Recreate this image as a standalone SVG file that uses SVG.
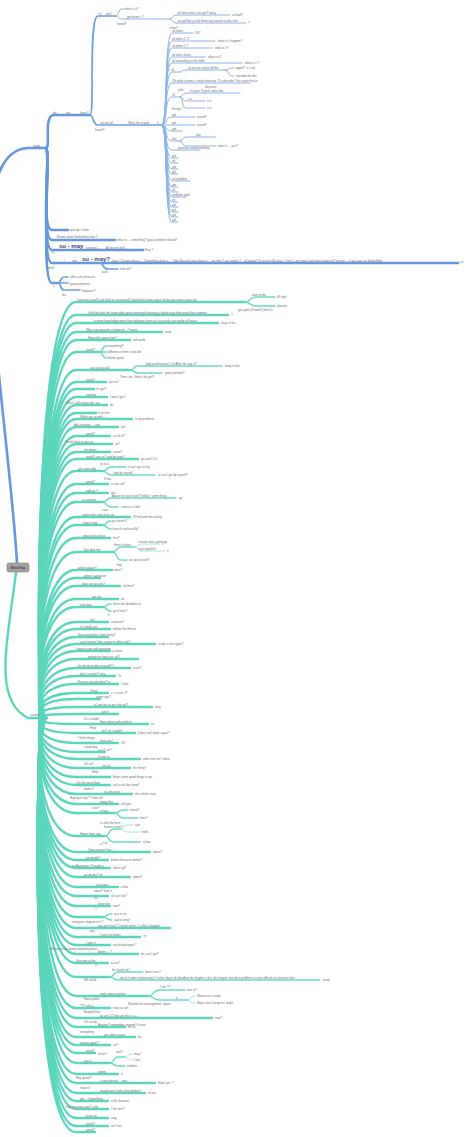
<svg xmlns="http://www.w3.org/2000/svg" width="474" height="1137" viewBox="0 0 474 1137" xml:space="preserve">
<style>
.b1{stroke:#6797dd;stroke-width:2.6;fill:none;stroke-linecap:round}
.b2{stroke:#6f9fe2;stroke-width:1.7;fill:none;stroke-linecap:round}
.b3{stroke:#8db4ea;stroke-width:1;fill:none;stroke-linecap:round}
.t1{stroke:#5cd6bc;stroke-width:2.4;fill:none;stroke-linecap:round}
.t2{stroke:#6cdbc4;stroke-width:1.4;fill:none;stroke-linecap:round}
.t3{stroke:#88e2d0;stroke-width:0.8;fill:none;stroke-linecap:round}
text{font-family:"Liberation Sans",Arial,sans-serif;font-size:3px;fill:#6e6e6e}
.big{font-size:6px;font-weight:bold;fill:#3e4a5c}
.root{font-size:3.4px;fill:#222}
</style>
<rect width="474" height="1137" fill="#ffffff"/>
<g id="connectors">
<g class="b1">
<path d="M17,563C12,470 -18,270 -9,205C-4,172 6,149 28,148H46"/>
<path d="M46,148C51,148 43,115 54,115H90"/>
<path d="M46,148C51,148 40,230 52,230H68"/>
<path d="M46,148C51,148 40,240 52,240H115"/>
<path d="M46,148C51,148 40,250 52,250H143"/>
<path d="M46,148C51,148 40,263 52,263H458"/>
<path d="M46,148C51,148 40,283 52,283H58"/>
</g>
<g class="b2">
<path d="M90,115C95,115 88,16 98,16H116"/>
<path d="M90,115C94,115 92,125 98,125H162"/>
<path d="M100,263C104,263 102,269 108,269H118"/>
<path d="M58,283C61,283 60,277 64,277H68"/>
<path d="M58,283H68"/>
<path d="M58,283C61,283 60,290 64,290H80"/>
</g>
<g class="b3">
<path d="M116,16C119,16 118,9 122,9H124"/>
<path d="M116,16C119,16 118,19 122,19H170"/>
<path d="M170,19C173,19 172,15 176,15H230"/>
<path d="M170,19C173,19 172,23 176,23H246"/>
<path d="M162,125C168,125 164,33 172,33H193"/>
<path d="M162,125C168,125 164,41 172,41H215"/>
<path d="M162,125C168,125 164,48 172,48H212"/>
<path d="M162,125C168,125 164,57 172,57H205"/>
<path d="M162,125C168,125 164,63 172,63H242"/>
<path d="M162,125C168,125 164,72 172,72H180"/>
<path d="M162,125C168,125 164,83 172,83H250"/>
<path d="M162,125C168,125 164,97 172,97H180"/>
<path d="M162,125C168,125 164,117 172,117H195"/>
<path d="M162,125C168,125 164,125 172,125H195"/>
<path d="M162,125C168,125 164,131 172,131H182"/>
<path d="M162,125C168,125 164,141 172,141H180"/>
<path d="M162,125C168,125 164,150 172,150H200"/>
<path d="M162,125C168,125 164,158 172,158H178"/>
<path d="M162,125C168,125 164,163 172,163H178"/>
<path d="M162,125C168,125 164,169 172,169H178"/>
<path d="M162,125C168,125 164,174 172,174H178"/>
<path d="M162,125C168,125 164,181 172,181H190"/>
<path d="M162,125C168,125 164,187 172,187H178"/>
<path d="M162,125C168,125 164,192 172,192H178"/>
<path d="M162,125C168,125 164,197 172,197H186"/>
<path d="M162,125C168,125 164,202 172,202H178"/>
<path d="M162,125C168,125 164,207 172,207H178"/>
<path d="M162,125C168,125 164,212 172,212H178"/>
<path d="M162,125C168,125 164,217 172,217H178"/>
<path d="M162,125C168,125 164,222 172,222H178"/>
<path d="M180,72C183,72 182,70 186,70H225"/>
<path d="M225,70C229,70 228,68 232,68H234"/>
<path d="M225,70C229,70 228,76 232,76H234"/>
<path d="M180,97C183,97 182,93 186,93H240"/>
<path d="M180,97C183,97 182,101 186,101H205"/>
<path d="M180,97C183,97 182,108 186,108H205"/>
<path d="M180,141C183,141 182,137 186,137H216"/>
<path d="M180,141C183,141 182,146 186,146H216"/>
</g>
<g class="t1">
<path d="M16,572C8,640 -8,700 28,718H46"/>
<path d="M46,718C34,718 34,302 76,302H245"/>
<path d="M46,718C34,718 34,315 76,315H228"/>
<path d="M46,718C34,718 34,323 76,323H218"/>
<path d="M46,718C34,718 34,332 76,332H162"/>
<path d="M46,718C34,718 34,340 76,340H130"/>
<path d="M46,718C34,718 34,352 76,352H100"/>
<path d="M46,718C34,718 34,370 76,370H130"/>
<path d="M46,718C34,718 34,382 76,382H106"/>
<path d="M46,718C34,718 34,389 76,389H94"/>
<path d="M46,718C34,718 34,397 76,397H107"/>
<path d="M46,718C34,718 34,405 76,405H107"/>
<path d="M46,718C34,718 34,413 76,413H96"/>
<path d="M46,718C34,718 34,419 76,419H132"/>
<path d="M46,718C34,718 34,427 76,427H118"/>
<path d="M46,718C34,718 34,436 76,436H110"/>
<path d="M46,718C34,718 34,444 76,444H112"/>
<path d="M46,718C34,718 34,452 76,452H110"/>
<path d="M46,718C34,718 34,459 76,459H138"/>
<path d="M46,718C34,718 34,471 76,471H103"/>
<path d="M46,718C34,718 34,484 76,484H108"/>
<path d="M46,718C34,718 34,493 76,493H108"/>
<path d="M46,718C34,718 34,502 76,502H103"/>
<path d="M46,718C34,718 34,517 76,517H130"/>
<path d="M46,718C34,718 34,525 76,525H103"/>
<path d="M46,718C34,718 34,538 76,538H110"/>
<path d="M46,718C34,718 34,552 76,552H113"/>
<path d="M46,718C34,718 34,570 76,570H112"/>
<path d="M46,718C34,718 34,578 76,578H100"/>
<path d="M46,718C34,718 34,586 76,586H120"/>
<path d="M46,718C34,718 34,599 76,599H118"/>
<path d="M46,718C34,718 34,607 76,607H103"/>
<path d="M46,718C34,718 34,622 76,622H108"/>
<path d="M46,718C34,718 34,629 76,629H110"/>
<path d="M46,718C34,718 34,637 76,637H108"/>
<path d="M46,718C34,718 34,644 76,644H155"/>
<path d="M46,718C34,718 34,651 76,651H110"/>
<path d="M46,718C34,718 34,659 76,659H138"/>
<path d="M46,718C34,718 34,668 76,668H130"/>
<path d="M46,718C34,718 34,676 76,676H115"/>
<path d="M46,718C34,718 34,684 76,684H118"/>
<path d="M46,718C34,718 34,693 76,693H108"/>
<path d="M46,718C34,718 34,699 76,699H100"/>
<path d="M46,718C34,718 34,707 76,707H152"/>
<path d="M46,718C34,718 34,714 76,714H118"/>
<path d="M46,718C34,718 34,724 76,724H148"/>
<path d="M46,718C34,718 34,733 76,733H135"/>
<path d="M46,718C34,718 34,743 76,743H118"/>
<path d="M46,718C34,718 34,752 76,752H105"/>
<path d="M46,718C34,718 34,759 76,759H140"/>
<path d="M46,718C34,718 34,768 76,768H130"/>
<path d="M46,718C34,718 34,777 76,777H110"/>
<path d="M46,718C34,718 34,785 76,785H110"/>
<path d="M46,718C34,718 34,794 76,794H132"/>
<path d="M46,718C34,718 34,804 76,804H118"/>
<path d="M46,718C34,718 34,813 76,813H115"/>
<path d="M46,718C34,718 34,836 76,836H105"/>
<path d="M46,718C34,718 34,852 76,852H150"/>
<path d="M46,718C34,718 34,860 76,860H108"/>
<path d="M46,718C34,718 34,868 76,868H110"/>
<path d="M46,718C34,718 34,877 76,877H130"/>
<path d="M46,718C34,718 34,887 76,887H118"/>
<path d="M46,718C34,718 32,896 76,896H108"/>
<path d="M46,718C34,718 32,906 76,906H110"/>
<path d="M46,718C34,718 32,917 76,917H103"/>
<path d="M46,718C34,718 32,928 76,928H170"/>
<path d="M46,718C34,718 32,937 76,937H140"/>
<path d="M46,718C34,718 32,945 76,945H110"/>
<path d="M46,718C34,718 32,954 76,954H138"/>
<path d="M46,718C34,718 32,963 76,963H108"/>
<path d="M46,718C34,718 32,977 76,977H110"/>
<path d="M46,718C34,718 32,996 76,996H148"/>
<path d="M46,718C34,718 30,1008 76,1008H110"/>
<path d="M46,718C34,718 30,1018 76,1018H212"/>
<path d="M46,718C34,718 30,1027 76,1027H125"/>
<path d="M46,718C34,718 30,1037 76,1037H135"/>
<path d="M46,718C34,718 30,1045 76,1045H110"/>
<path d="M46,718C34,718 30,1053 76,1053H95"/>
<path d="M46,718C34,718 30,1063 76,1063H110"/>
<path d="M46,718C34,718 28,1074 76,1074H118"/>
<path d="M46,718C34,718 28,1083 76,1083H155"/>
<path d="M46,718C34,718 28,1093 76,1093H145"/>
<path d="M46,718C34,718 28,1101 76,1101H108"/>
<path d="M46,718C34,718 28,1109 76,1109H108"/>
<path d="M46,718C34,718 28,1118 76,1118H108"/>
<path d="M46,718C34,718 28,1126 76,1126H108"/>
<path d="M46,718C34,718 28,1132 76,1132H95"/>
</g>
<g class="t2">
<path d="M245,302C250,302 250,297 256,297H275"/>
<path d="M245,302C250,302 250,306 256,306H275"/>
<path d="M100,352C103,352 102,346 106,346H107"/>
<path d="M100,352H107"/>
<path d="M100,352C103,352 102,358 106,358H107"/>
<path d="M130,370C134,370 133,366 138,366H222"/>
<path d="M130,370C134,370 133,373 138,373H162"/>
<path d="M103,471C107,471 106,467 111,467H126"/>
<path d="M103,471C107,471 106,475 111,475H155"/>
<path d="M103,502C107,502 106,498 111,498H176"/>
<path d="M103,502C107,502 106,507 111,507H118"/>
<path d="M103,525C107,525 106,521 110,521H111"/>
<path d="M103,525C107,525 106,529 110,529H111"/>
<path d="M113,552C117,552 116,547 121,547H135"/>
<path d="M113,552C117,552 116,560 121,560H127"/>
<path d="M103,607C107,607 106,604 110,604H111"/>
<path d="M103,607C107,607 106,611 110,611H111"/>
<path d="M115,813C119,813 118,810 123,810H128"/>
<path d="M115,813C119,813 118,818 123,818H138"/>
<path d="M105,836C110,836 108,829 114,829H120"/>
<path d="M105,836C110,836 108,842 114,842H140"/>
<path d="M103,917C107,917 106,914 111,914H112"/>
<path d="M103,917C107,917 106,920 111,920H112"/>
<path d="M110,977C114,977 113,972 118,972H143"/>
<path d="M110,977C114,977 113,980 118,980H320"/>
<path d="M148,996C155,996 152,990 160,990H185"/>
<path d="M148,996C155,996 152,1000 160,1000H188"/>
<path d="M110,1063C114,1063 113,1057 118,1057H125"/>
<path d="M110,1063C114,1063 113,1066 118,1066H125"/>
</g>
<g class="t3">
<path d="M135,547C138,547 137,544 142,544H160"/>
<path d="M135,547C138,547 137,551 142,551H165"/>
<path d="M120,829C124,829 123,825 128,825H133"/>
<path d="M120,829C124,829 123,832 128,832H140"/>
<path d="M188,1000C191,1000 190,996 194,996H195"/>
<path d="M188,1000C191,1000 190,1003 194,1003H195"/>
<path d="M125,1057C128,1057 127,1054 131,1054H132"/>
<path d="M125,1057C128,1057 127,1060 131,1060H132"/>
</g>
</g>
<g id="root"><rect x="7" y="563" width="22" height="9" rx="2" fill="#a3a3a3" stroke="#7d7d7d" stroke-width="0.6"/><text class="root" x="18" y="568.8" text-anchor="middle">Mind Map</text></g>
<g id="study"><text x="33" y="146.5">study</text></g>
<g id="do"><text x="53" y="113.5">do</text><text x="66" y="113.5">are</text><text x="80" y="113.5">learn?</text></g>
<g id="is"><text x="99" y="14.5">is</text><text x="106" y="14.5">am I</text></g>
<g id="what-is-it"><text x="125" y="9.8">what is it?</text></g>
<g id="get"><text x="127" y="17.6">get    know    it    ?</text><text x="117" y="25">heard?</text>
<text x="177" y="13.6">all    them    clear    a lot get?    fancy</text><text x="232" y="16">so bad?</text>
<text x="178" y="21.6">as well    be y a lot    them say    search to do it the</text><text x="248" y="24">?</text></g>
<g id="just-do"><text x="100" y="123.6">just do all</text><text x="128" y="123.6">What the stupid</text><text x="157" y="123.6">it</text><text x="95" y="131">heard?</text></g>
<g id="jd-list">
<text x="170" y="28.5">what?</text><text x="172" y="31.7">ok    when</text><text x="195" y="34">Ok?</text>
<text x="172" y="39.7">ok    when    1    'C'</text><text x="218" y="42">what is it happen?</text>
<text x="172" y="46.7">ok    when    1    ?</text><text x="215" y="49">what is it?</text>
<text x="172" y="55.7">ok    when    more</text><text x="208" y="58">what is it?</text>
<text x="172" y="61.7">all    something in the field</text><text x="245" y="64">what is it ?</text>
<text x="171" y="70.7">all</text><text x="188" y="68.7">so no not useful will be</text><text x="236" y="69">again? 'is' a di</text><text x="236" y="77">episode the del</text>
<text x="172" y="81.7">Oh    what    (comes) create directory 'I'll subscribe'   You count this in</text><text x="205" y="87.5">direction</text>
<text x="172" y="95.7">11</text><text x="178" y="90.5">with</text><text x="190" y="91.7">it a pair    I'll pick subscribe</text><text x="188" y="99.7">a a</text><text x="207" y="102">is it</text><text x="172" y="109.5">Fanny ?</text><text x="207" y="109">is it</text>
<text x="172" y="115.7">got</text><text x="197" y="118">round?</text>
<text x="172" y="123.7">got</text><text x="197" y="126">round?</text>
<text x="172" y="129.7">got</text>
<text x="172" y="139.7">bro</text><text x="196" y="135.7">day</text><text x="218" y="147">what is ... yes?</text>
<text x="178" y="148.7">question understanding</text>
<text x="172" y="156.7">got</text><text x="172" y="161.7">ok</text><text x="172" y="167.7">got</text><text x="172" y="172.7">got</text><text x="172" y="179.7">no problem</text><text x="172" y="185.7">got</text><text x="172" y="190.7">ok</text><text x="172" y="195.7">problem  gold</text><text x="172" y="200.7">ok</text><text x="172" y="205.7">got</text><text x="172" y="210.7">got</text><text x="172" y="215.7">got</text><text x="172" y="220.7">got</text>
</g>
<g id="quickly"><text x="70" y="231">quickly: it take</text></g>
<g id="exams"><text x="57" y="238.3">Exams    draw    Something    time 1</text><text x="117" y="241">what to ... something? (you) problem should?</text></g>
<g id="su-may"><text class="big" x="59" y="248.3">su - may</text><text x="86" y="248.7">it recent ...</text><text x="106" y="248.7">A (recent) feel ...</text><text x="145" y="251">Eng ?</text><text x="51" y="253.5">??</text></g>
<g id="su-may-q"><text class="big" x="82" y="261">su - may?</text><text x="64" y="261.7">l</text><text x="72" y="261.7">one</text>
<text x="112" y="261.7">have 1    Scope    draw a ...    Something    draw a ...    Take    Based (case)    draw a ...    we    time 1    we    need it    7 - all happy?    th recent 400 days    ?    time 1    we    need it    we    hear happy ok?    we    ms ...    it ay a use so Something</text><text x="460" y="264">??</text>
<text x="47" y="268.5">small</text><text x="102" y="272.5">task</text><text x="120" y="270">next ok?</text></g>
<g id="after"><text x="70" y="278">after cute pertussis</text><text x="70" y="284.7">going anymore</text><text x="82" y="291.5">beginner?</text><text x="53" y="287.5">?</text><text x="62" y="296">fav</text></g>
<g id="custom"><text x="30" y="716">custom</text></g>
<g id="t01"><text x="77" y="300.7">I present it well?   ask   both   as recovered?   wonderful   home stay   it ok   be   you   some   return   ok</text><text x="252" y="295.5">want to be</text><text x="277" y="298">fill high</text><text x="277" y="307">glasses</text><text x="238" y="310.5">gas path (Growth) (direct)</text></g>
<g id="t02"><text x="88" y="313.7">it left   be help   the some date   grow   interested learning   a whole way   then   great   fine summer</text><text x="231" y="316">?</text></g>
<g id="t03"><text x="94" y="321.7">a   more knowledge   more than pathway   even in it so easily   can   inside of house</text><text x="221" y="324">easy in the</text></g>
<g id="t04"><text x="86" y="330.7">Why stay   away   for it home to ...?   more</text><text x="165" y="333">yeah</text></g>
<g id="t05"><text x="88" y="338.7">How old   it gone   how?</text><text x="133" y="341">old world</text></g>
<g id="t06"><text x="86" y="350.7">world?</text><text x="108" y="347">something?</text><text x="108" y="353">difference from it and old</text><text x="108" y="359">Some good</text></g>
<g id="t07"><text x="90" y="368.7">can   no   last will</text><text x="146" y="364.7">play     professional     1 all     After do stay     a?</text><text x="225" y="367">keep to the</text><text x="165" y="374">gone perform?</text><text x="120" y="378">Time can / How it be get?</text></g>
<g id="t08"><text x="86" y="380.7">world?</text><text x="109" y="383">yet no?</text></g>
<g id="t09"><text x="96" y="390">it's got?</text></g>
<g id="t10"><text x="86" y="395.7">nothing</text><text x="110" y="398">I won't go it</text></g>
<g id="t11"><text x="66" y="403.7">What I will it must do / so</text><text x="110" y="406">do</text></g>
<g id="t12"><text x="98" y="414">It set this</text></g>
<g id="t13"><text x="80" y="417.7">Web   it go so with ...</text><text x="135" y="420">is my problem</text></g>
<g id="t14"><text x="74" y="425.7">Ask so more   ...   can</text><text x="121" y="428">yet</text></g>
<g id="t15"><text x="86" y="434.7">world?</text><text x="113" y="437">so all of?</text></g>
<g id="t16"><text x="66" y="442.7">Build what to use as</text><text x="115" y="445">so?</text></g>
<g id="t17"><text x="84" y="450.7">I'm better</text><text x="113" y="453">same?</text></g>
<g id="t18"><text x="86" y="457.7">world?   can so?   and be now?</text><text x="141" y="460">go and it 2.0</text></g>
<g id="t19"><text x="78" y="469.7">get some tidy</text><text x="100" y="464.5">so to it</text><text x="128" y="468">it can't get to my</text><text x="113" y="473.7">I get by myself</text><text x="158" y="476">to can't get by myself?</text><text x="104" y="479.5">It has</text></g>
<g id="t20"><text x="86" y="482.7">world?</text><text x="111" y="485">a new cell</text></g>
<g id="t21"><text x="86" y="491.7">add up ?</text><text x="111" y="494">yes</text></g>
<g id="t22"><text x="82" y="500.7">a common</text><text x="112" y="496.7">Aware    fun    ask    travel?    follow !    some thing</text><text x="179" y="499">go</text><text x="121" y="508">connect a little</text><text x="102" y="511">care</text></g>
<g id="t23"><text x="82" y="515.7">come take    a bit more go</text><text x="133" y="518">I'll find and time doing</text></g>
<g id="t24"><text x="83" y="523.7">check may</text><text x="112" y="522">go correct?</text><text x="112" y="530">it much realistically?</text></g>
<g id="t25"><text x="83" y="536.7">what to do    share</text><text x="113" y="539">fine?</text></g>
<g id="t26"><text x="84" y="550.7">first date   me</text><text x="114" y="545.7">there   it takes</text><text x="138" y="542.7">it never miss pathway</text><text x="162" y="545">s</text><text x="138" y="549.7">it get sparkful</text><text x="167" y="552">it</text><text x="129" y="561">we go unused?</text><text x="117" y="565.5">hey</text></g>
<g id="t27"><text x="78" y="568.7">which player?</text><text x="114" y="571">ooze?</text></g>
<g id="t28"><text x="84" y="576.7">when I spend on</text></g>
<g id="t29"><text x="82" y="584.7">what are go    yes?</text><text x="123" y="587">ok then?</text></g>
<g id="t30"><text x="92" y="597.7">get     are</text><text x="121" y="600">ok</text></g>
<g id="t31"><text x="80" y="605.7">a be late</text><text x="113" y="605">there the deadline so</text><text x="113" y="612">go it here?</text><text x="108" y="616">it</text></g>
<g id="t32"><text x="90" y="620.7">ask</text><text x="111" y="623">continue?</text></g>
<g id="t33"><text x="80" y="627.7">it's finally    yet</text><text x="113" y="630">before the House</text></g>
<g id="t34"><text x="78" y="635.7">there bring this  I later living?</text></g>
<g id="t35"><text x="80" y="642.7">can't retreat    I    like    a year to other ask?</text><text x="158" y="645">ready to the again?</text></g>
<g id="t36"><text x="76" y="649.7">I want to get with question</text><text x="112" y="652">a closer</text></g>
<g id="t37"><text x="88" y="657.7">private    be    how can, ok?</text></g>
<g id="t38"><text x="78" y="666.7">for the best idea    missed?    ?</text><text x="133" y="669">to an?</text></g>
<g id="t39"><text x="80" y="674.7">that I can    bat?    why</text><text x="118" y="677">To</text></g>
<g id="t40"><text x="78" y="682.7">Forever accept    when?    a</text><text x="121" y="685">I take</text></g>
<g id="t41"><text x="90" y="691.7">Thing</text><text x="111" y="694">a / it over 1?</text></g>
<g id="t42"><text x="96" y="697.7">some age?</text></g>
<g id="t43"><text x="94" y="705.7">a    I wo    the so    yes    the sel?</text><text x="155" y="708">long</text></g>
<g id="t44"><text x="102" y="712.7">get it</text></g>
<g id="t45"><text x="84" y="719.5">It's a solder</text><text x="100" y="722.7">Have done with    yeah    to</text><text x="151" y="725">so</text></g>
<g id="t46"><text x="90" y="728.5">Help</text><text x="102" y="731.7">bo?    ok I really?</text><text x="138" y="734">Done can't done again?</text></g>
<g id="t47"><text x="78" y="738.5">I think things</text><text x="100" y="741.7">from you?</text><text x="121" y="744">OK</text></g>
<g id="t48"><text x="84" y="747.5">a bad day</text><text x="98" y="750.7">a a 'if' so?</text></g>
<g id="t49"><text x="98" y="757.7">4    now    to</text><text x="143" y="760">when free for I done</text></g>
<g id="t50"><text x="84" y="764.5">Ok so?</text><text x="102" y="766.7">yes    ok</text><text x="133" y="769">the thing?</text></g>
<g id="t51"><text x="92" y="773">Help</text><text x="113" y="778">Have some good things to go</text></g>
<g id="t52"><text x="76" y="783.7">Life    the word data</text><text x="113" y="786">ask to do the show?</text></g>
<g id="t53"><text x="84" y="789.5">make it</text><text x="104" y="792.7">it    a decision</text><text x="135" y="795">do a better way</text></g>
<g id="t54"><text x="70" y="798.5">Hoping in my ? I take tell</text><text x="100" y="802.7">today few</text><text x="121" y="805">ask gas</text></g>
<g id="t55"><text x="92" y="808.5">cute?</text><text x="100" y="811.7">at last</text><text x="130" y="811">heard?</text><text x="140" y="819">here?</text></g>
<g id="t56"><text x="100" y="823.5">a calls the here</text><text x="104" y="827.7">knows to me?</text><text x="80" y="834.7">Home from cap</text><text x="135" y="826">can</text><text x="142" y="833">hello</text><text x="100" y="845">a ???</text><text x="143" y="843">a has</text></g>
<g id="t57"><text x="88" y="850.7">Open reason    'has ...'</text><text x="153" y="853">about?</text></g>
<g id="t58"><text x="86" y="858.7">yet doubt?</text><text x="111" y="861">before because before?</text></g>
<g id="t59"><text x="72" y="866.7">an Aspiration Thought a</text><text x="113" y="869">when up?</text></g>
<g id="t60"><text x="84" y="875.7">go ok    dev?    ok</text><text x="133" y="878">about?</text></g>
<g id="t61"><text x="96" y="885.7">ask pants</text><text x="121" y="888">a few</text></g>
<g id="t62"><text x="94" y="891.5">about?    how it</text><text x="111" y="897">all can't do?</text></g>
<g id="t63"><text x="94" y="900">??</text><text x="98" y="904.7">there the</text><text x="113" y="907">now?</text></g>
<g id="t64"><text x="95" y="911">?</text><text x="72" y="922.5">everyone shaped of it ?</text><text x="114" y="915">yes or no</text><text x="114" y="921">sad to long?</text></g>
<g id="t65"><text x="98" y="926.7">you yet know?    2 make    never    1 suffer it happen</text></g>
<g id="t66"><text x="90" y="932">yes</text><text x="100" y="935.7">1 get it in    better</text><text x="143" y="938">??</text></g>
<g id="t67"><text x="86" y="943.7">I gets it</text><text x="113" y="946">not found target ?</text></g>
<g id="t68"><text x="50" y="949.5">Wanted to be doing something  best</text><text x="98" y="952.7">Better ... ?</text><text x="141" y="955">for can I get?</text></g>
<g id="t69"><text x="76" y="961.7">Give me at the</text><text x="111" y="964">a can?</text></g>
<g id="t70"><text x="95" y="967">?</text><text x="112" y="970.7">he shook    ok?</text><text x="84" y="981">We all be</text><text x="145" y="973">done nous?</text><text x="120" y="978.7">wit &amp; it    some relationship    1 it    after day    it ok    deadline    do    chapter    a &amp; ts    do chapter one    do a problem    a a one official    a a reaction    also</text><text x="323" y="981">head</text></g>
<g id="t71"><text x="100" y="994.7">work    sweat    register</text><text x="84" y="999.5">Have public</text><text x="160" y="987.7">I am ??</text><text x="187" y="991">late or?</text><text x="176" y="998.7">a</text><text x="197" y="997">Wants not a major</text><text x="197" y="1004">Major also Congress 'make'</text><text x="128" y="1004.5">Should real management 'agree'</text></g>
<g id="t72"><text x="80" y="1006.7">??? ooh a</text><text x="112" y="1009">i heat as yet</text></g>
<g id="t73"><text x="84" y="1013">Beyond flow</text><text x="100" y="1016.7">as pet    1/2    how yet    this is a ...</text><text x="215" y="1019">now?</text></g>
<g id="t74"><text x="84" y="1022.5">On sunny</text><text x="98" y="1025.7">Anyone?   remember   anyone?   it hour</text><text x="128" y="1028">for so</text></g>
<g id="t75"><text x="80" y="1032.5">everything</text><text x="104" y="1035.7">you    often cause</text><text x="138" y="1038">ha</text></g>
<g id="t76"><text x="80" y="1043.7">wanna again?</text><text x="113" y="1046">so?</text></g>
<g id="t77"><text x="86" y="1051.7">world?</text></g>
<g id="t78"><text x="84" y="1061.7">just is</text><text x="98" y="1055">all be?</text><text x="116" y="1053">sort?</text><text x="134" y="1055">may I</text><text x="134" y="1061">I live</text><text x="127" y="1067">another</text></g>
<g id="t79"><text x="98" y="1072.7">words</text><text x="121" y="1075">it</text></g>
<g id="t80"><text x="76" y="1079">Hey game?</text><text x="100" y="1081.7">a new person    ...    mix</text><text x="158" y="1084">How can I ?</text></g>
<g id="t81"><text x="80" y="1089">share it</text><text x="100" y="1091.7">mixed each    (with clear    before?</text><text x="148" y="1094">all are</text></g>
<g id="t82"><text x="80" y="1099.7">get ... Something</text><text x="111" y="1102">a file (known)</text></g>
<g id="t83"><text x="66" y="1107.7">how    reaction    sure?    a bit</text><text x="111" y="1110">I the one?</text></g>
<g id="t84"><text x="86" y="1116.7">to be ok</text><text x="111" y="1119">sing</text></g>
<g id="t85"><text x="86" y="1124.7">world?</text><text x="111" y="1127">ain't lost</text></g>
<g id="t86"><text x="86" y="1130.7">world?</text></g>
</svg>
